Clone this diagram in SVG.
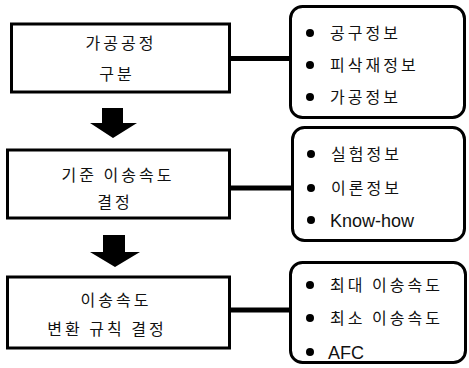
<svg xmlns="http://www.w3.org/2000/svg" width="469" height="368" viewBox="0 0 469 368">
<style>
.box{fill:#fff;stroke:#000;stroke-width:3}
.rbox{fill:#fff;stroke:#000;stroke-width:3}
.kt{font-family:"Noto Sans CJK KR","Noto Sans",sans-serif;font-size:16px;letter-spacing:3px;fill:#111}
.mid{text-anchor:middle}
.lt{font-family:"Liberation Sans",Arial,sans-serif;font-size:18px;fill:#111}
.conn{stroke:#000;stroke-width:5;fill:none}
.arr{fill:#000}
</style>
<rect width="469" height="368" fill="#fff"/>
<g id="connectors">
<line class="conn" x1="229" y1="58.5" x2="290" y2="58.5"/>
<line class="conn" x1="229" y1="188" x2="292" y2="188"/>
<line class="conn" x1="229" y1="310" x2="290" y2="310"/>
<polygon class="arr" points="102,108 123,108 123,123 137,123 113,138 90,123 102,123"/>
<polygon class="arr" points="103,235 125,235 125,252 140,252 115,267 90,252 103,252"/>
</g>
<g id="n1">
<rect class="box" x="11.5" y="24" width="218" height="68"/>
<text class="kt mid" x="121" y="49">가공공정</text>
<text class="kt mid" x="117" y="80">구분</text>
</g>
<g id="n2">
<rect class="box" x="7.5" y="150" width="222" height="68"/>
<text class="kt mid" x="118" y="181">기준 이송속도</text>
<text class="kt mid" x="115" y="208">결정</text>
</g>
<g id="n3">
<rect class="box" x="7.5" y="277" width="222" height="71"/>
<text class="kt mid" x="116" y="306">이송속도</text>
<text class="kt mid" x="107" y="335">변환 규칙 결정</text>
</g>
<g id="r1">
<rect class="rbox" x="290.5" y="6.5" width="174" height="111" rx="12"/>
<circle cx="310" cy="33" r="4"/><text class="kt" x="330" y="39">공구정보</text>
<circle cx="310" cy="65" r="4"/><text class="kt" x="330" y="71">피삭재정보</text>
<circle cx="310" cy="97" r="4"/><text class="kt" x="330" y="103">가공정보</text>
</g>
<g id="r2">
<rect class="rbox" x="292.5" y="127.5" width="172" height="113" rx="12"/>
<circle cx="311" cy="154" r="4"/><text class="kt" x="331" y="160">실험정보</text>
<circle cx="311" cy="188" r="4"/><text class="kt" x="331" y="194">이론정보</text>
<circle cx="311" cy="220" r="4"/><text class="lt" x="330" y="226.5">Know-how</text>
</g>
<g id="r3">
<rect class="rbox" x="290.5" y="262.5" width="175" height="100" rx="12"/>
<circle cx="310" cy="285" r="4"/><text class="kt" x="330" y="291">최대 이송속도</text>
<circle cx="310" cy="318" r="4"/><text class="kt" x="330" y="324">최소 이송속도</text>
<circle cx="310" cy="352" r="4"/><text class="lt" x="328" y="358.5">AFC</text>
</g>
</svg>
